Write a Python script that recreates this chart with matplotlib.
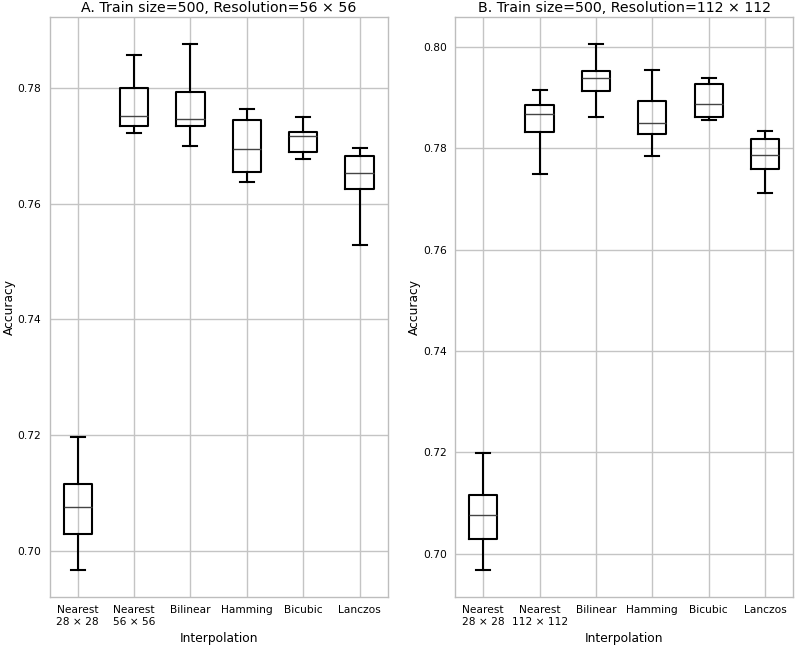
import matplotlib
matplotlib.use("Agg")
import matplotlib.pyplot as plt

# category labels for the two panels
labels_a = ["Nearest\n28 × 28", "Nearest\n56 × 56", "Bilinear", "Hamming", "Bicubic", "Lanczos"]
labels_b = ["Nearest\n28 × 28", "Nearest\n112 × 112", "Bilinear", "Hamming", "Bicubic", "Lanczos"]

# box statistics (panel A, 56 x 56)
a_lo  = [0.6967, 0.7722, 0.7699, 0.7638, 0.7677, 0.7528]
a_q1  = [0.7029, 0.7734, 0.7734, 0.7654, 0.7689, 0.7625]
a_med = [0.7076, 0.7752, 0.7746, 0.7694, 0.7717, 0.7653]
a_q3  = [0.7115, 0.7799, 0.7793, 0.7745, 0.7723, 0.7682]
a_hi  = [0.7197, 0.7856, 0.7876, 0.7764, 0.7749, 0.7696]

# panel B, 112 x 112
b_lo  = [0.6967, 0.7749, 0.7863, 0.7785, 0.7856, 0.7712]
b_q1  = [0.7029, 0.7832, 0.7913, 0.7828, 0.7862, 0.7759]
b_med = [0.7077, 0.7868, 0.7940, 0.7851, 0.7888, 0.7788]
b_q3  = [0.7115, 0.7885, 0.7953, 0.7893, 0.7928, 0.7819]
b_hi  = [0.7198, 0.7916, 0.8007, 0.7955, 0.7940, 0.7834]


def make_stats(lo, q1, med, q3, hi):
    return [dict(whislo=l, q1=a, med=m, q3=b, whishi=h, fliers=[])
            for l, a, m, b, h in zip(lo, q1, med, q3, hi)]


fig = plt.figure(figsize=(7.96, 6.45), dpi=100)
ax_a = fig.add_axes([0.0622, 0.0749, 0.4249, 0.8983])
ax_b = fig.add_axes([0.5716, 0.0749, 0.4250, 0.8983])

panels = [
    (ax_a, make_stats(a_lo, a_q1, a_med, a_q3, a_hi), labels_a,
     "A. Train size=500, Resolution=56 × 56", (0.6921, 0.7922), [0.70, 0.72, 0.74, 0.76, 0.78]),
    (ax_b, make_stats(b_lo, b_q1, b_med, b_q3, b_hi), labels_b,
     "B. Train size=500, Resolution=112 × 112", (0.6915, 0.8059), [0.70, 0.72, 0.74, 0.76, 0.78, 0.80]),
]

for ax, stats, labels, title, ylim, yticks in panels:
    ax.set_axisbelow(True)
    ax.grid(True, color="#c4c4c4", linewidth=1.0)
    ax.bxp(stats, positions=range(1, 7), widths=0.5, showfliers=False,
           boxprops=dict(color="black", linewidth=1.5),
           whiskerprops=dict(color="black", linewidth=1.5),
           capprops=dict(color="black", linewidth=1.5),
           medianprops=dict(color="#444444", linewidth=1.0))
    ax.set_xlim(0.5, 6.5)
    ax.set_ylim(*ylim)
    ax.set_yticks(yticks)
    ax.set_xticks(range(1, 7))
    ax.set_xticklabels(labels, fontsize=7.7)
    ax.tick_params(axis="y", labelsize=7.7)
    ax.tick_params(length=0, pad=6)
    for sp in ax.spines.values():
        sp.set_color("#bdbdbd")
        sp.set_linewidth(1.0)
    ax.set_title(title, fontsize=10.2, pad=4)
    ax.set_xlabel("Interpolation", fontsize=8.8, labelpad=4)
    ax.set_ylabel("Accuracy", fontsize=8.8, labelpad=1)

fig.savefig("out.png", dpi=100)
